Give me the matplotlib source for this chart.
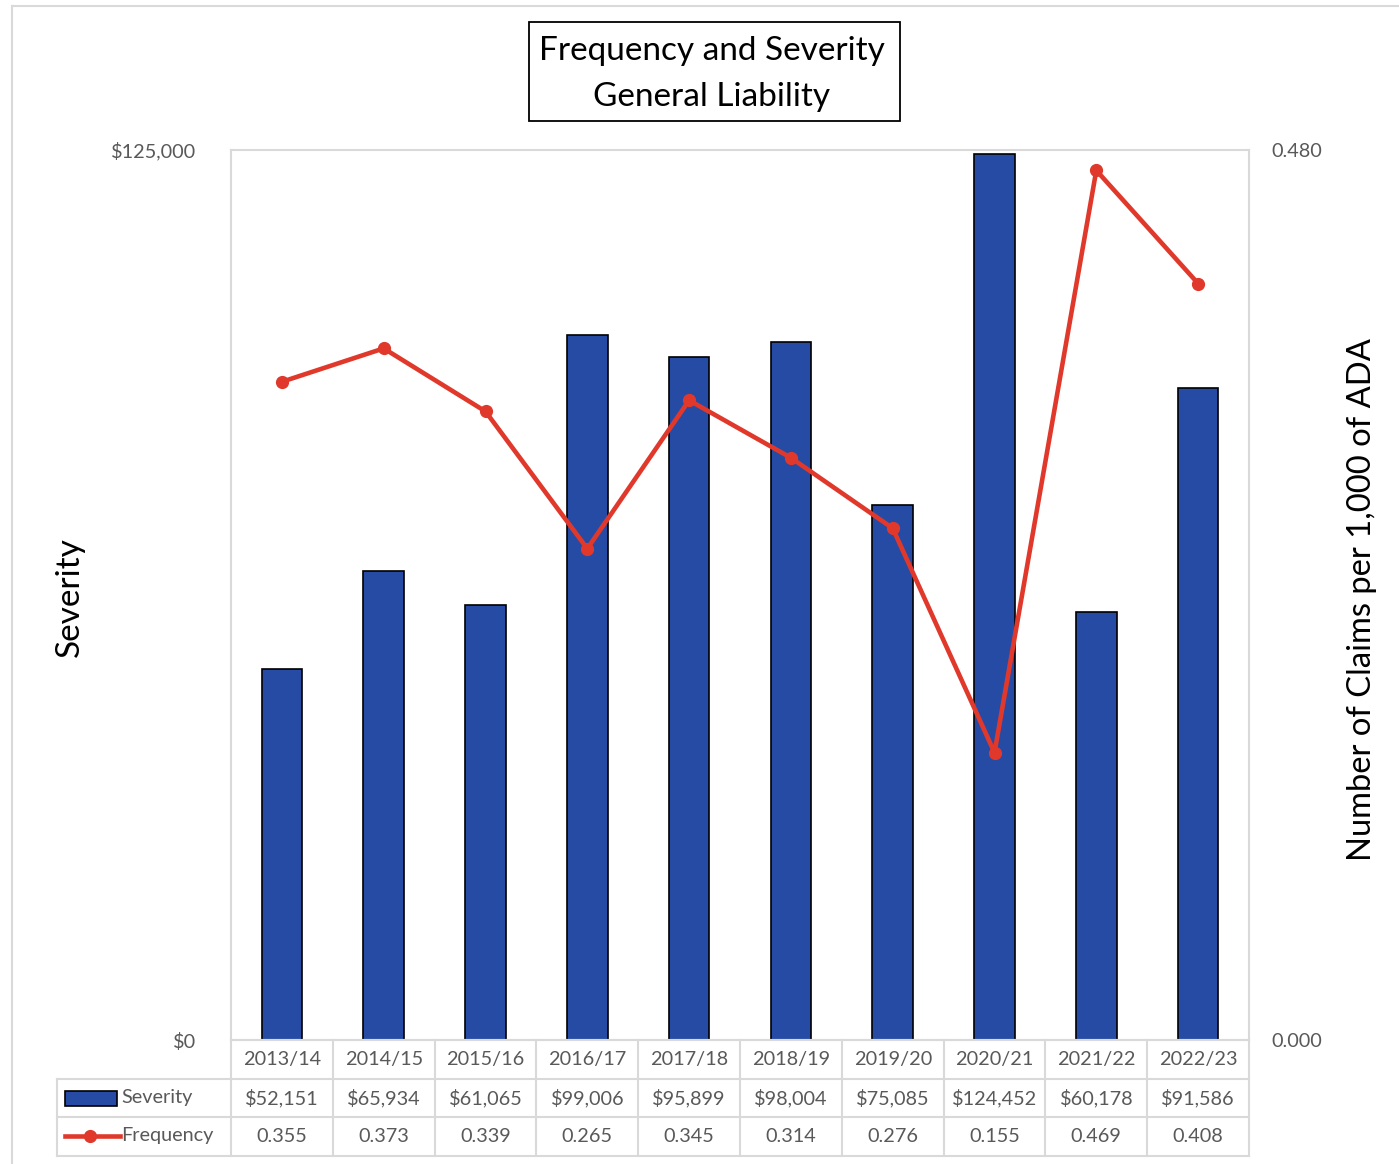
import matplotlib
matplotlib.use("Agg")
import matplotlib.pyplot as plt
from matplotlib.patches import Rectangle
from matplotlib.lines import Line2D
from matplotlib.transforms import blended_transform_factory

plt.rcParams['font.family'] = ['Lato', 'DejaVu Sans']

years = ["2013/14", "2014/15", "2015/16", "2016/17", "2017/18",
         "2018/19", "2019/20", "2020/21", "2021/22", "2022/23"]
severity = [52151, 65934, 61065, 99006, 95899, 98004, 75085, 124452, 60178, 91586]
frequency = [0.355, 0.373, 0.339, 0.265, 0.345, 0.314, 0.276, 0.155, 0.469, 0.408]

BLUE = "#264BA5"
RED = "#E0392B"
GRID = "#D9D9D9"
TXT = "#595959"
FS = 14.3

W, H = 1399, 1164
fig = plt.figure(figsize=(W / 100, H / 100), dpi=100)

def px(x, y):
    # pixel coords (from top-left) -> figure fraction
    return x / W, 1 - y / H

# outer chart frame
fig.add_artist(Line2D([12 / W, 12 / W], [0, 1 - 6 / H], transform=fig.transFigure, color=GRID, lw=1.5))
fig.add_artist(Line2D([12 / W, 1], [1 - 6 / H, 1 - 6 / H], transform=fig.transFigure, color=GRID, lw=1.5))

left, top, right, bottom = 231, 150, 1249, 1040
ax = fig.add_axes([left / W, 1 - bottom / H, (right - left) / W, (bottom - top) / H])
x = list(range(len(years)))
ax.bar(x, severity, width=0.4, color=BLUE, edgecolor="black", linewidth=1.2, zorder=2)
ax.set_xlim(-0.5, len(years) - 0.5)
ax.set_ylim(0, 125000)
ax.set_yticks([0, 125000])
ax.set_yticklabels(["$0", "$125,000"])
ax.set_xticks([])
ax.tick_params(axis="y", length=0, labelsize=FS, labelcolor=TXT, pad=25)
for s in ax.spines.values():
    s.set_color(GRID)
    s.set_linewidth(1.5)

ax2 = ax.twinx()
ax2.plot(x, frequency, color=RED, lw=3.3, marker="o", markersize=8.5, zorder=3)
ax2.set_ylim(0, 0.48)
ax2.set_yticks([0, 0.48])
ax2.set_yticklabels(["0.000", "0.480"])
ax2.tick_params(axis="y", length=0, labelsize=FS, labelcolor=TXT, pad=16)
for s in ax2.spines.values():
    s.set_visible(False)

# axis titles
fig.text(*px(70, 597), "Severity", rotation=90, ha="center", va="center", fontsize=24)
fig.text(*px(1362, 600), "Number of Claims per 1,000 of ADA", rotation=90,
         ha="center", va="center", fontsize=23.6)

# chart title in a box
fig.text(*px(712, 74), "Frequency and Severity\nGeneral Liability", ha="center", va="center",
         fontsize=24, linespacing=1.68)
fig.add_artist(Rectangle(px(529, 121), 371 / W, 99 / H, transform=fig.transFigure,
                         fill=False, edgecolor="black", lw=1.3))

# data table under the axis
trans = blended_transform_factory(ax.transData, fig.transFigure)
rows_y = [1040, 1079, 1117, 1156]
tab_left = 57
for i, yy in enumerate(rows_y):
    x0 = left if i == 0 else tab_left
    fig.add_artist(Line2D([x0 / W, right / W], [1 - yy / H] * 2, transform=fig.transFigure,
                          color=GRID, lw=1.5))
fig.add_artist(Line2D([tab_left / W] * 2, [1 - rows_y[1] / H, 1 - rows_y[3] / H],
                      transform=fig.transFigure, color=GRID, lw=1.5))
for k in range(len(years) + 1):
    fig.add_artist(Line2D([k - 0.5, k - 0.5], [1 - rows_y[0] / H, 1 - rows_y[3] / H],
                          transform=trans, color=GRID, lw=1.5))

for k in x:
    fig.text(k, 1 - 1060 / H, years[k], transform=trans, ha="center", va="center",
             fontsize=FS, color=TXT)
    fig.text(k, 1 - 1098 / H, "${:,}".format(severity[k]), transform=trans, ha="center",
             va="center", fontsize=FS, color=TXT)
    fig.text(k, 1 - 1136 / H, "{:.3f}".format(frequency[k]), transform=trans, ha="center",
             va="center", fontsize=FS, color=TXT)

# legend keys inside the table
fig.add_artist(Rectangle(px(65, 1106), 52 / W, 15 / H, transform=fig.transFigure,
                         facecolor=BLUE, edgecolor="black", lw=1.2))
fig.text(*px(121, 1098), "Severity", ha="left", va="center", fontsize=FS, color=TXT)
fig.add_artist(Line2D([65 / W, 120 / W], [1 - 1136 / H] * 2, transform=fig.transFigure,
                      color=RED, lw=3.3))
fig.add_artist(Line2D([90 / W], [1 - 1136 / H], transform=fig.transFigure, color=RED,
                      marker="o", markersize=8.5))
fig.text(*px(121, 1136), "Frequency", ha="left", va="center", fontsize=FS, color=TXT)

fig.savefig("out.png", dpi=100)
